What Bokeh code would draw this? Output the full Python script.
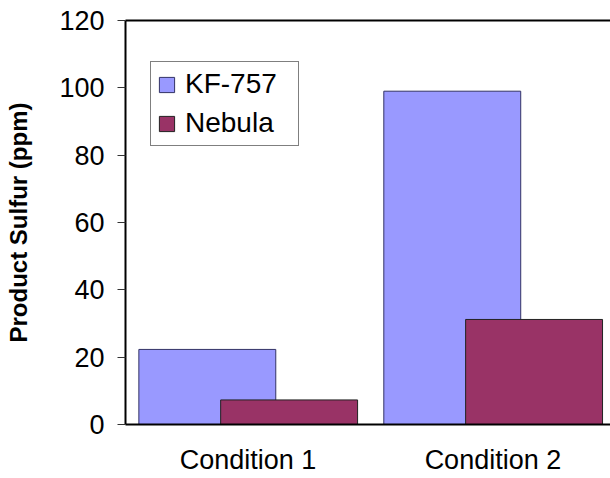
from bokeh.plotting import figure
from bokeh.models import ColumnDataSource, FixedTicker, LinearAxis, Range1d, Legend, LegendItem
from bokeh.transform import dodge
from bokeh.embed import file_html
from bokeh.resources import INLINE
import numpy as np

categories = ["Condition 1", "Condition 2"]
kf757 = [22.3, 99.0]
nebula = [7.3, 31.2]
series_names = ["KF-757", "Nebula"]
y_ticks = [0, 20, 40, 60, 80, 100, 120]

FONT = "Liberation Sans"

centers = list(np.arange(len(categories)) + 0.5)
src = ColumnDataSource(dict(x=centers, kf=kf757, neb=nebula))

p = figure(width=610, height=478, output_backend="svg", toolbar_location=None,
           x_range=Range1d(0, 1.98), y_range=Range1d(0, 120),
           min_border_left=125, min_border_right=0, min_border_top=20, min_border_bottom=54)
p.outline_line_color = None
p.xgrid.visible = False
p.ygrid.visible = False
p.background_fill_color = "white"
p.border_fill_color = "white"

bw = 0.559
r1 = p.vbar(x=dodge("x", -0.166, range=p.x_range), top="kf", width=bw, source=src,
            fill_color="#9999FF", line_color="#333366", line_width=1)
r2 = p.vbar(x=dodge("x", 0.168, range=p.x_range), top="neb", width=bw, source=src,
            fill_color="#993366", line_color="#222222", line_width=1)

# y axis
ya = p.yaxis[0]
ya.ticker = FixedTicker(ticks=y_ticks)
ya.minor_tick_line_color = None
ya.major_tick_in = 0
ya.major_tick_out = 8
ya.major_tick_line_color = "#333333"
ya.major_tick_line_width = 1
ya.axis_line_width = 2
ya.axis_line_color = "black"
ya.major_label_text_font = FONT
ya.major_label_text_font_size = "27px"
ya.major_label_text_color = "black"
ya.major_label_standoff = 13
ya.axis_label = "Product Sulfur (ppm)"
ya.axis_label_text_font = FONT
ya.axis_label_text_font_style = "bold"
ya.axis_label_text_font_size = "24px"
ya.axis_label_text_color = "black"
ya.axis_label_standoff = 24

# x axis
xa = p.xaxis[0]
xa.ticker = FixedTicker(ticks=centers)
xa.major_label_overrides = {c: lab for c, lab in zip(centers, categories)}
xa.major_tick_line_color = None
xa.minor_tick_line_color = None
xa.axis_line_width = 2
xa.axis_line_color = "black"
xa.major_label_text_font = FONT
xa.major_label_text_font_size = "27px"
xa.major_label_text_color = "black"
xa.major_label_standoff = 14

# top border line
top = LinearAxis(ticker=FixedTicker(ticks=[]), major_tick_line_color=None, minor_tick_line_color=None,
                 major_label_text_font_size="0px", major_label_standoff=0,
                 axis_line_width=2, axis_line_color="black")
p.add_layout(top, "above")

legend = Legend(items=[LegendItem(label=series_names[0], renderers=[r1]),
                       LegendItem(label=series_names[1], renderers=[r2])],
                location=(25, 278), orientation="vertical")
legend.margin = 0
legend.padding = 6
legend.spacing = 7
legend.glyph_width = 19
legend.glyph_height = 19
legend.label_standoff = 9
legend.label_width = 107
legend.label_text_font = FONT
legend.label_text_font_size = "28px"
legend.label_text_color = "black"
legend.border_line_color = "black"
legend.border_line_width = 1
legend.background_fill_color = "white"
legend.background_fill_alpha = 1
p.add_layout(legend, "center")

open("out.html", "w").write(file_html(p, INLINE))
